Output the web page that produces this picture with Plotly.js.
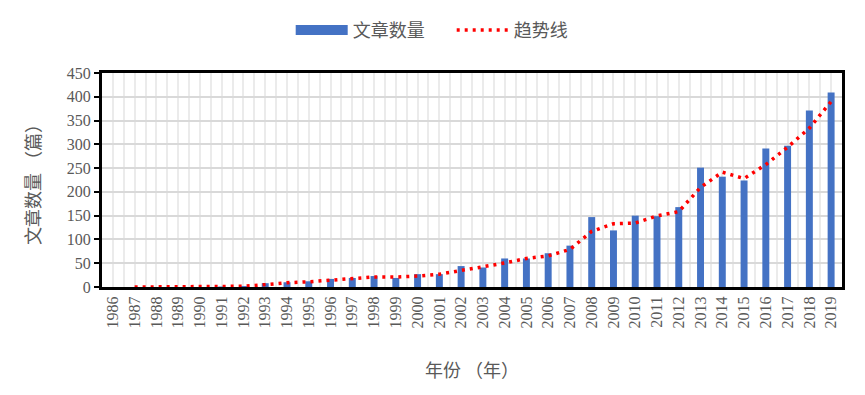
<!DOCTYPE html>
<html>
<head>
<meta charset="utf-8">
<script src="https://cdn.plot.ly/plotly-3.0.1.min.js"></script>
<style>html,body{margin:0;padding:0;background:#fff;}#chart{width:865px;height:395px;}</style>
</head>
<body>
<div id="chart"></div>
<script>
// Data
const years = [1986,1987,1988,1989,1990,1991,1992,1993,1994,1995,1996,1997,1998,1999,2000,2001,2002,2003,2004,2005,2006,2007,2008,2009,2010,2011,2012,2013,2014,2015,2016,2017,2018,2019];
const yearLabels = years.map(String);
const articleCounts = [0,0,0,0,0,1,2,8,10,12,17,19,23,19,27,27,44,41,60,60,71,87,147,119,150,149,168,251,232,224,291,297,371,409];
const trendYears = [1987,1988,1989,1990,1991,1992,1993,1994,1995,1996,1997,1998,1999,2000,2001,2002,2003,2004,2005,2006,2007,2008,2009,2010,2011,2012,2013,2014,2015,2016,2017,2018,2019];
const trendValues = [0,0,0,0,0.5,1.5,5,9,11,14.5,18,21,21,23,27,35.5,42.5,50.5,60,65.5,79,117,133,134.5,149.5,158.5,209.5,241.5,228,257.5,294,334,390];
const seriesNames = ['文章数量', '趋势线'];
const yTicks = [0,50,100,150,200,250,300,350,400,450];

const serif = '"Liberation Serif", "Times New Roman", serif';
const cjk = '"Noto Sans CJK SC", "Noto Sans", sans-serif';
const grey = '#595959';

const traces = [
  {
    type: 'bar', x: years, y: articleCounts, name: seriesNames[0],
    marker: {color: '#4472C4'}, showlegend: false, legendgroup: 'bars',
    hoverinfo: 'x+y'
  },
  {
    type: 'scatter', x: [null], y: [null], mode: 'lines', name: seriesNames[0],
    line: {color: '#4472C4', width: 11}, legendgroup: 'bars', hoverinfo: 'skip'
  },
  {
    type: 'scatter', x: trendYears, y: trendValues, mode: 'lines', name: seriesNames[1],
    line: {color: '#FF0000', width: 3.5, dash: '3px,5px'}
  }
];

const layout = {
  width: 865, height: 395,
  margin: {l: 102, r: 23, t: 68, b: 108},
  paper_bgcolor: '#ffffff', plot_bgcolor: '#ffffff',
  bargap: 0.68,
  showlegend: true,
  legend: {
    orientation: 'h', x: 0.255, xanchor: 'left', y: 1.2, yanchor: 'middle',
    itemwidth: 52, entrywidth: 94, entrywidthmode: 'pixels',
    font: {family: cjk, size: 18, color: grey},
    bgcolor: 'rgba(0,0,0,0)', traceorder: 'normal', itemclick: false
  },
  xaxis: {
    type: 'linear', range: [1985.5, 2019.5],
    tickmode: 'array', tickvals: years, ticktext: yearLabels,
    tickangle: -90, tickfont: {family: serif, size: 16, color: grey},
    ticks: '', showline: true, linecolor: '#000000', linewidth: 3, mirror: true,
    showgrid: true, gridcolor: '#ebebeb', gridwidth: 2,
    minor: {tickmode: 'linear', tick0: 1985.5, dtick: 1, showgrid: true, gridcolor: '#ebebeb', gridwidth: 2, ticks: ''},
    zeroline: false, fixedrange: true,
    title: {text: '年份 （年）', font: {family: cjk, size: 18, color: grey}, standoff: 37}
  },
  yaxis: {
    range: [0, 450], tickmode: 'array', tickvals: yTicks,
    tickfont: {family: serif, size: 16, color: grey},
    ticks: 'outside', ticklen: 5, tickwidth: 2, tickcolor: '#000000',
    showline: true, linecolor: '#000000', linewidth: 3, mirror: true,
    showgrid: true, gridcolor: '#d9d9d9', gridwidth: 2,
    zeroline: false, fixedrange: true,
    title: {text: '文章数量 （篇）', font: {family: cjk, size: 18, color: grey}, standoff: 22}
  }
};

Plotly.newPlot('chart', traces, layout, {displayModeBar: false, staticPlot: true});
</script>
</body>
</html>
